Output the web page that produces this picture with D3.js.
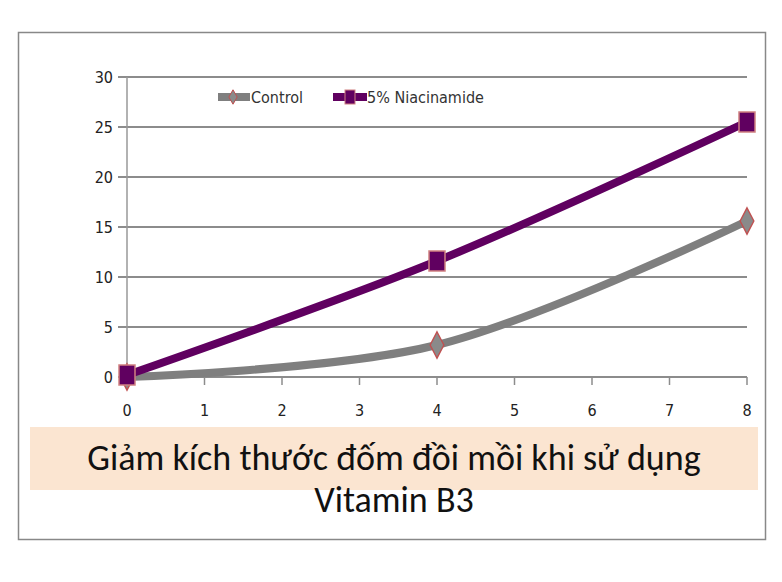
<!DOCTYPE html><html><head><meta charset="utf-8"><script src="https://cdn.jsdelivr.net/npm/d3@7"></script>
<style>body{margin:0;background:#fff}</style></head><body><svg width="782" height="582"></svg><script>
const xs=[0,4,8];
const control=[0,3.2,15.6];
const niacin=[0.2,11.6,25.5];
const seriesNames=["Control","5% Niacinamide"];
const yTicks=[0,5,10,15,20,25,30];
const xTicks=[0,1,2,3,4,5,6,7,8];
const title1="Giảm kích thước đốm đồi mồi khi sử dụng", title2="Vitamin B3";
const svg=d3.select("svg");
svg.append("rect").attr("x",18.5).attr("y",32.5).attr("width",747).attr("height",507).attr("fill","none").attr("stroke","#888").attr("stroke-width",1.5);
const x=d3.scaleLinear().domain([0,8]).range([127,747]);
const y=d3.scaleLinear().domain([0,30]).range([377,77]);
const f="'Liberation Sans Narrow','DejaVu Sans Condensed',sans-serif";
svg.append("g").selectAll("line").data(yTicks).join("line").attr("x1",118).attr("x2",747).attr("y1",d=>y(d)).attr("y2",d=>y(d)).attr("stroke","#8c8c8c").attr("stroke-width",2);
svg.append("line").attr("x1",127).attr("x2",127).attr("y1",77).attr("y2",377).attr("stroke","#999").attr("stroke-width",1.5);
svg.append("g").selectAll("line").data(xTicks).join("line").attr("x1",d=>x(d)).attr("x2",d=>x(d)).attr("y1",377).attr("y2",385).attr("stroke","#8c8c8c").attr("stroke-width",1.5);
svg.append("g").selectAll("text").data(yTicks).join("text").attr("x",113).attr("y",d=>y(d)+6).attr("text-anchor","end").attr("font-family",f).attr("font-size",16).attr("fill","#222").text(d=>d);
svg.append("g").selectAll("text").data(xTicks).join("text").attr("x",d=>x(d)).attr("y",416).attr("text-anchor","middle").attr("font-family",f).attr("font-size",16).attr("fill","#222").text(d=>d);
const line=d3.line().x((d,i)=>x(xs[i])).y(d=>y(d)).curve(d3.curveCatmullRom.alpha(0.5));
svg.append("path").attr("d",line(control)).attr("fill","none").attr("stroke","#7f7f7f").attr("stroke-width",8);
svg.append("path").attr("d",line(niacin)).attr("fill","none").attr("stroke","#600060").attr("stroke-width",8);
const dia=d3.symbol().type(d3.symbolDiamond).size(200);
svg.append("g").selectAll("path").data(control).join("path").attr("d",dia).attr("transform",(d,i)=>`translate(${x(xs[i])},${y(d)}) scale(0.9,1)`).attr("fill","#8a8a8a").attr("stroke","#c05050").attr("stroke-width",1.5);
svg.append("g").selectAll("rect").data(niacin).join("rect").attr("x",(d,i)=>x(xs[i])-8).attr("y",d=>y(d)-10).attr("width",16).attr("height",20).attr("fill","#600060").attr("stroke","#d08080").attr("stroke-width",1.5);
const lg=svg.append("g");
lg.append("line").attr("x1",218).attr("x2",250).attr("y1",97).attr("y2",97).attr("stroke","#7f7f7f").attr("stroke-width",8);
lg.append("path").attr("d",d3.symbol().type(d3.symbolDiamond).size(60)).attr("transform","translate(233,97)").attr("fill","#8a8a8a").attr("stroke","#c05050");
lg.append("text").attr("x",251).attr("y",103).attr("font-family",f).attr("font-size",16).attr("fill","#333").text(seriesNames[0]);
lg.append("line").attr("x1",333).attr("x2",367).attr("y1",97).attr("y2",97).attr("stroke","#600060").attr("stroke-width",8);
lg.append("rect").attr("x",345).attr("y",90).attr("width",10).attr("height",14).attr("fill","#600060").attr("stroke","#d08080");
lg.append("text").attr("x",367).attr("y",103).attr("font-family",f).attr("font-size",16).attr("fill","#333").text(seriesNames[1]);
svg.append("rect").attr("x",30).attr("y",427).attr("width",728).attr("height",63).attr("fill","#fbe5d1");
const tf="Carlito,Lato,'Open Sans',sans-serif";
svg.append("text").attr("x",394).attr("y",470).attr("text-anchor","middle").attr("font-family",tf).attr("font-size",36).attr("fill","#111").text(title1);
svg.append("text").attr("x",394).attr("y",512).attr("text-anchor","middle").attr("font-family",tf).attr("font-size",36).attr("fill","#111").text(title2);
</script></body></html>
